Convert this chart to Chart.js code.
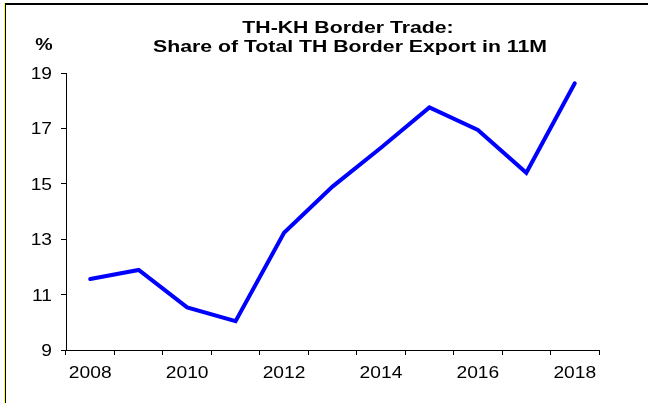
<!DOCTYPE html>
<html>
<head>
<meta charset="utf-8">
<script src="https://cdn.jsdelivr.net/npm/chart.js"></script>
<style>
  html, body { margin: 0; padding: 0; background: #fff; }
  #chartBox { width: 648px; height: 403px; }
</style>
</head>
<body>
<div id="chartBox"><canvas id="borderChart" width="648" height="403"></canvas></div>
<script>
// data
const years = ['2008', '2009', '2010', '2011', '2012', '2013', '2014', '2015', '2016', '2017', '2018'];
const shareValues = [11.56, 11.89, 10.54, 10.04, 13.23, 14.90, 16.30, 17.76, 16.94, 15.40, 18.63];
const yTicks = [9, 11, 13, 15, 17, 19];
const titleLines = ['TH-KH Border Trade:', 'Share of Total TH Border Export in 11M'];
const unitLabel = '%';

// the reference text looks stretched sideways, so text is drawn wider
function drawWideText(ctx, text, x, baseline, stretch) {
    ctx.save();
    ctx.translate(x, baseline);
    ctx.scale(stretch, 1);
    ctx.fillText(text, 0, 0);
    ctx.restore();
}

// frame, title, % unit and the (stretched) tick labels
const decorPlugin = {
    id: 'decor',
    beforeDraw(chart) {
        const ctx = chart.ctx;
        ctx.save();
        ctx.fillStyle = '#fff';
        ctx.fillRect(0, 0, chart.width, chart.height);
        ctx.restore();
    },
    afterDraw(chart) {
        const ctx = chart.ctx;
        const xScale = chart.scales.x;
        const yScale = chart.scales.y;
        ctx.save();
        // outer frame
        ctx.fillStyle = '#000';
        ctx.fillRect(4, 3, chart.width - 4, 2);
        ctx.fillRect(5, 3, 1, chart.height - 3);
        ctx.fillStyle = '#ffff00';
        ctx.fillRect(4, 3, 1, chart.height - 3);

        ctx.fillStyle = '#000';
        ctx.textAlign = 'center';
        ctx.textBaseline = 'alphabetic';
        ctx.font = 'bold 17px "Liberation Sans", Arial';
        drawWideText(ctx, titleLines[0], 348, 33, 1.25);
        drawWideText(ctx, titleLines[1], 350, 52, 1.25);
        drawWideText(ctx, unitLabel, 44, 50, 1.15);

        // tick labels through the chart's own scales
        ctx.font = '16px "Liberation Sans", Arial';
        xScale.ticks.forEach((t, i) => {
            if (i % 2 !== 0) return;
            drawWideText(ctx, years[i], xScale.getPixelForTick(i), 378, 1.2);
        });
        ctx.textAlign = 'right';
        yTicks.forEach(v => {
            drawWideText(ctx, String(v), 52, yScale.getPixelForValue(v) + 6, 1.2);
        });
        ctx.restore();
    }
};

new Chart(document.getElementById('borderChart'), {
    type: 'line',
    data: {
        labels: years,
        datasets: [{
            data: shareValues,
            borderColor: '#0000ff',
            borderWidth: 4,
            borderCapStyle: 'round',
            pointRadius: 0,
            tension: 0,
            fill: false
        }]
    },
    options: {
        responsive: false,
        animation: false,
        devicePixelRatio: 1,
        layout: { padding: { top: 73, right: 49, left: 0, bottom: 0 } },
        plugins: {
            legend: { display: false },
            title: { display: false },
            tooltip: { enabled: false }
        },
        scales: {
            x: {
                type: 'category',
                offset: true,
                afterFit: scale => { scale.height = 53; },
                grid: {
                    offset: true,
                    drawOnChartArea: false,
                    drawTicks: true,
                    tickLength: 5,
                    color: '#000'
                },
                border: { color: '#000', width: 1 },
                ticks: {
                    autoSkip: false,
                    maxRotation: 0,
                    color: 'rgba(0,0,0,0)',
                    padding: 8,
                    font: { family: 'Liberation Sans', size: 16 },
                    callback: (value, i) => (i % 2 === 0 ? years[i] : '')
                }
            },
            y: {
                min: 9,
                max: 19,
                afterFit: scale => { scale.width = 66; },
                afterBuildTicks: scale => { scale.ticks = yTicks.map(v => ({ value: v })); },
                grid: {
                    drawOnChartArea: false,
                    drawTicks: true,
                    tickLength: 5,
                    color: '#000'
                },
                border: { color: '#000', width: 1 },
                ticks: {
                    color: 'rgba(0,0,0,0)',
                    padding: 9,
                    font: { family: 'Liberation Sans', size: 16 }
                }
            }
        }
    },
    plugins: [decorPlugin]
});
</script>
</body>
</html>
